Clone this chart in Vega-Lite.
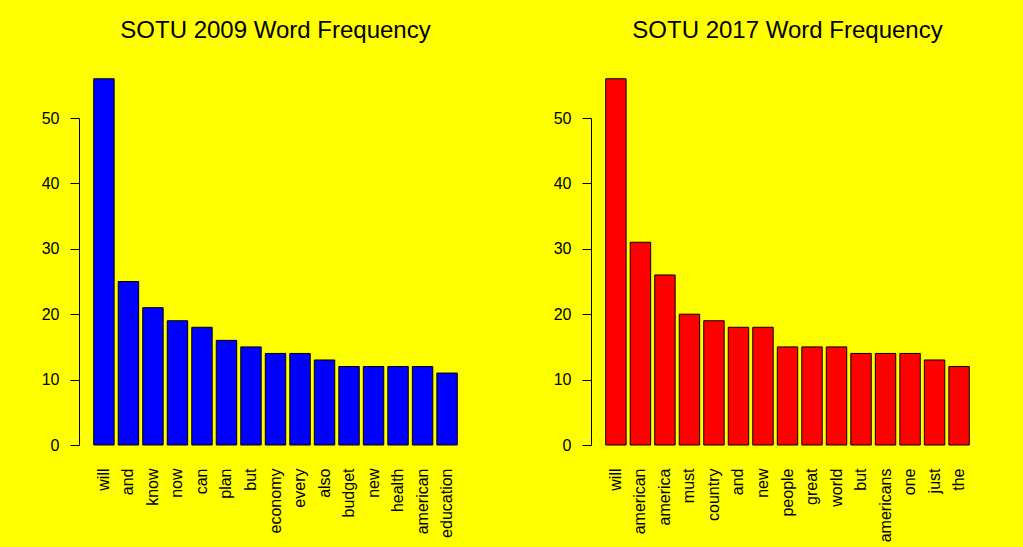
{
  "$schema": "https://vega.github.io/schema/vega-lite/v6.json",
  "background": "#ffff00",
  "padding": {"left": 41, "top": 19, "right": 39, "bottom": 10},
  "spacing": 81,
  "config": {
    "view": {"stroke": null},
    "font": "Liberation Sans",
    "title": {"fontSize": 24, "fontWeight": "normal", "color": "black", "offset": 35, "anchor": "middle"},
    "axis": {"labelFontSize": 16, "labelColor": "black", "grid": false, "title": null},
    "axisX": {"labelAngle": -90, "ticks": false, "tickSize": 0, "domain": false, "labelPadding": 23, "labelLimit": 300},
    "axisY": {"tickSize": 9, "tickColor": "black", "domainColor": "black", "labelPadding": 11, "labelAngle": 0}
  },
  "datasets": {
    "y2009": [
      {"word": "will", "n": 56}, {"word": "and", "n": 25}, {"word": "know", "n": 21},
      {"word": "now", "n": 19}, {"word": "can", "n": 18}, {"word": "plan", "n": 16},
      {"word": "but", "n": 15}, {"word": "economy", "n": 14}, {"word": "every", "n": 14},
      {"word": "also", "n": 13}, {"word": "budget", "n": 12}, {"word": "new", "n": 12},
      {"word": "health", "n": 12}, {"word": "american", "n": 12}, {"word": "education", "n": 11}
    ],
    "y2017": [
      {"word": "will", "n": 56}, {"word": "american", "n": 31}, {"word": "america", "n": 26},
      {"word": "must", "n": 20}, {"word": "country", "n": 19}, {"word": "and", "n": 18},
      {"word": "new", "n": 18}, {"word": "people", "n": 15}, {"word": "great", "n": 15},
      {"word": "world", "n": 15}, {"word": "but", "n": 14}, {"word": "americans", "n": 14},
      {"word": "one", "n": 14}, {"word": "just", "n": 13}, {"word": "the", "n": 12}
    ]
  },
  "hconcat": [
    {
      "title": "SOTU 2009 Word Frequency",
      "width": 393,
      "height": 327,
      "data": {"name": "y2009"},
      "mark": {"type": "bar", "fill": "#0000ff", "stroke": "black", "strokeWidth": 1},
      "encoding": {
        "x": {"field": "word", "type": "nominal", "sort": null, "scale": {"paddingInner": 0.1667, "paddingOuter": 0.6}},
        "y": {"field": "n", "type": "quantitative", "scale": {"domain": [0, 50], "nice": false}, "axis": {"values": [0, 10, 20, 30, 40, 50]}}
      }
    },
    {
      "title": "SOTU 2017 Word Frequency",
      "width": 393,
      "height": 327,
      "data": {"name": "y2017"},
      "mark": {"type": "bar", "fill": "#ff0000", "stroke": "black", "strokeWidth": 1},
      "encoding": {
        "x": {"field": "word", "type": "nominal", "sort": null, "scale": {"paddingInner": 0.1667, "paddingOuter": 0.6}},
        "y": {"field": "n", "type": "quantitative", "scale": {"domain": [0, 50], "nice": false}, "axis": {"values": [0, 10, 20, 30, 40, 50]}}
      }
    }
  ]
}
